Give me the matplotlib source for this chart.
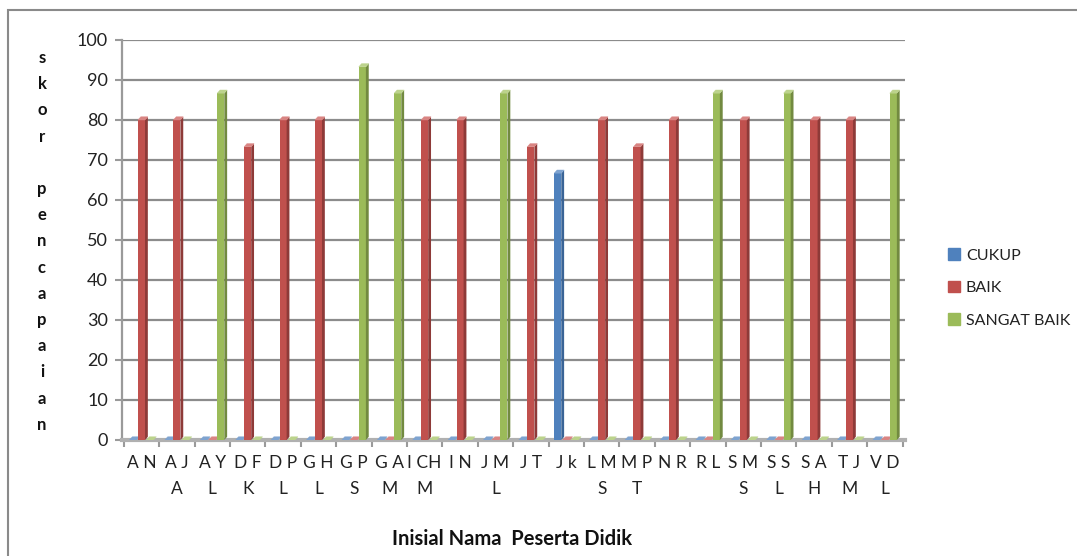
import matplotlib.pyplot as plt
from matplotlib.patches import Polygon, Patch, Rectangle
import numpy as np

plt.rcParams['font.family'] = ['Lato', 'DejaVu Sans']

# data
labels = ["A N", "A J\nA", "A Y\nL", "D F\nK", "D P\nL", "G H\nL", "G P\nS", "G A\nM",
          "I CH\nM", "I N", "J M\nL", "J T", "J k", "L M\nS", "M P\nT", "N R",
          "R L", "S M\nS", "S S\nL", "S A\nH", "T J\nM", "V D\nL"]
cukup = [0, 0, 0, 0, 0, 0, 0, 0, 0, 0, 0, 0, 66.7, 0, 0, 0, 0, 0, 0, 0, 0, 0]
baik = [80, 80, 0, 73.3, 80, 80, 0, 0, 80, 80, 0, 73.3, 0, 80, 73.3, 80, 0, 80, 0, 80, 80, 0]
sangat_baik = [0, 0, 86.7, 0, 0, 0, 93.3, 86.7, 0, 0, 86.7, 0, 0, 0, 0, 0, 86.7, 0, 86.7, 0, 0, 86.7]
series_names = ["CUKUP", "BAIK", "SANGAT BAIK"]

fig = plt.figure(figsize=(10.77, 5.56), dpi=100)
ax = fig.add_axes([122 / 1077, 116 / 556, 783 / 1077, 400 / 556])

# chart frame
fig.patches.append(Rectangle((8 / 1077, -0.05), 1.2, 1 - 10 / 556 + 0.05,
                             transform=fig.transFigure, fill=False,
                             edgecolor='#8a8a8a', lw=1.5))

x = np.arange(len(labels))
w = 0.2
dx = 0.08   # depth offset (category units)
dy = 0.8    # depth offset (value units)

styles = [
    (cukup, -0.24, '#4F81BD', '#3A6496', '#7EA3D0'),
    (baik, 0.0, '#C0504D', '#8E3A38', '#D98482'),
    (sangat_baik, 0.24, '#9BBB59', '#728A40', '#BCD38C'),
]

for vals, off, front, side, top in styles:
    xs = x + off
    ax.bar(xs, vals, width=w, color=front, zorder=3)
    for xi, v in zip(xs, vals):
        r = xi + w / 2
        l = xi - w / 2
        ax.add_patch(Polygon([(r, 0), (r + dx, dy), (r + dx, v + dy), (r, v)],
                             closed=True, color=side, zorder=3, lw=0))
        ax.add_patch(Polygon([(l, v), (l + dx, v + dy), (r + dx, v + dy), (r, v)],
                             closed=True, color=top, zorder=3, lw=0.3))

ax.set_xlim(-0.55, 21.57)
ax.set_ylim(0, 100)
ax.set_yticks(np.arange(0, 101, 10))
ax.set_xticks(x)
ax.set_xticklabels(labels, fontsize=12.5, linespacing=1.75, color='#222222')
ax.set_xticks(np.arange(-0.5, 22, 1), minor=True)
ax.tick_params(axis='x', which='major', length=0, pad=11)
ax.tick_params(axis='x', which='minor', length=5, color='#9a9a9a', width=1.5)
ax.tick_params(axis='y', length=5, color='#9a9a9a', width=1.5, labelsize=13,
               labelcolor='#222222', pad=5)

ax.grid(axis='y', color='#8c8c8c', lw=1.6, zorder=0)
ax.set_axisbelow(True)
for s in ['top', 'right']:
    ax.spines[s].set_visible(False)
ax.spines['left'].set_color('#9a9a9a')
ax.spines['left'].set_linewidth(1.6)
ax.spines['bottom'].set_color('#b0b0b0')
ax.spines['bottom'].set_linewidth(3)

# vertical y label, one letter per line
ylabel = "skor pencapaian"
y_top, step = 58, 26.2
for k, ch in enumerate(ylabel):
    if ch == ' ':
        continue
    fig.text(42 / 1077, 1 - (y_top + k * step) / 556, ch, ha='center', va='center',
             fontsize=12, fontweight='bold', color='#111111')

fig.text(512 / 1077, 1 - 539 / 556, "Inisial Nama  Peserta Didik", ha='center', va='center',
         fontsize=14.5, fontweight='bold', color='#111111')

handles = [Patch(color=c) for _, _, c, _, _ in styles]
fig.legend(handles, series_names, loc='upper left', bbox_to_anchor=(934 / 1077, 1 - 234 / 556),
           frameon=False, fontsize=11.5, handlelength=0.7, handleheight=0.7,
           handletextpad=0.4, labelspacing=1.15, labelcolor='#222222')

fig.savefig('out.png', dpi=100)
